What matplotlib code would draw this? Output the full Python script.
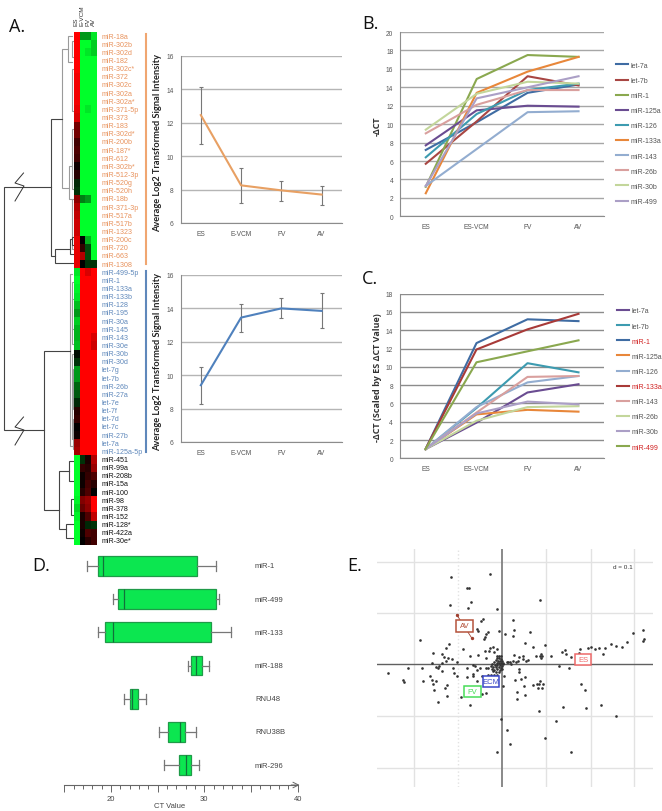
import numpy as np
import matplotlib
matplotlib.use('Agg')
import matplotlib.pyplot as plt
from matplotlib.colors import LinearSegmentedColormap
from matplotlib.patches import Rectangle

plt.rcParams['font.family'] = ['Liberation Sans', 'DejaVu Sans']

W, H = 662, 812

# panel A heatmap
orange_rows = ['miR-18a', 'miR-302b', 'miR-302d', 'miR-182', 'miR-302c*', 'miR-372', 'miR-302c', 'miR-302a',
               'miR-302a*', 'miR-371-5p', 'miR-373', 'miR-183', 'miR-302d*', 'miR-200b', 'miR-187*', 'miR-612',
               'miR-302b*', 'miR-512-3p', 'miR-520g', 'miR-520h', 'miR-18b', 'miR-371-3p', 'miR-517a', 'miR-517b',
               'miR-1323', 'miR-200c', 'miR-720', 'miR-663', 'miR-1308']
blue_rows = ['miR-499-5p', 'miR-1', 'miR-133a', 'miR-133b', 'miR-128', 'miR-195', 'miR-30a', 'miR-145', 'miR-143',
             'miR-30e', 'miR-30b', 'miR-30d', 'let-7g', 'let-7b', 'miR-26b', 'miR-27a', 'let-7e', 'let-7f', 'let-7d',
             'let-7c', 'miR-27b', 'let-7a', 'miR-125a-5p']
black_rows = ['miR-451', 'miR-99a', 'miR-208b', 'miR-15a', 'miR-100', 'miR-98', 'miR-378', 'miR-152', 'miR-128*',
              'miR-422a', 'miR-30e*']

heat_es = [1, 1, 1, 1, 1, .95, .95, .95, .95, .9, .85, .45, .45, .25, .3, .25, .05, .15, -.15, -.2, .55, .7, .75, .8,
           .8, .9, .9, .9, .9,
           -.9, -1, -.95, -.9, -.75, -.6, -.8, -.7, -.7, -.75, -.05, -.2, -.6, -.6, -.4, -.35, -.15, .15, .2, 0, .05,
           .6, .65,
           -1, -1, -1, -1, -1, -.95, -.85, -.95, -1, -1, -1]
heat_vcm = [-.6, -1, -1, -1, -1, -1, -1, -1, -1, -1, -1, -1, -1, -1, -1, -1, -1, -1, -1, -1, -.5, -1, -1, -1,
            -1, 0, .2, .7, 0,
            1, 1, 1, 1, 1, 1, 1, 1, 1, 1, 1, 1, 1, 1, 1, 1, 1, 1, 1, 1, 1, 1, 1,
            -.2, .2, .05, .05, .15, .5, .4, .1, .1, .05, 0]
heat_fv = [-.6, -1, -.9, -1, -1, -1, -1, -1, -1, -.9, -1, -1, -1, -1, -1, -1, -1, -1, -1, -1, -.6, -1, -1, -1,
           -1, -.7, -.3, -.3, -.2,
           .85, 1, 1, 1, 1, 1, 1, 1, 1, 1, 1, 1, 1, 1, 1, 1, 1, 1, 1, 1, 1, 1, 1,
           .1, .15, .2, .25, .3, .6, .55, .3, -.15, .3, .15]
heat_av = [-.9, -.8, -.8, -1, -1, -1, -1, -1, -1, -1, -1, -1, -1, -1, -1, -1, -1, -1, -1, -1, -1, -1, -1, -1,
           -1, -1, -1, -1, -.2,
           1, 1, 1, 1, 1, 1, 1, 1, .85, .8, 1, 1, 1, 1, 1, 1, 1, 1, 1, 1, 1, 1, 1,
           .7, .6, .3, .15, 0, 1, 1, .75, -.2, .25, .25]
heat_cols = ['ES', 'E-VCM', 'FV', 'AV']

# dendrogram brackets: x of node, y top, y bottom, x end of top arm, x end of bottom arm (picture px)
dendro_dark = [(3.5, 188, 431, 51, 44), (51, 120, 257, 62, 55), (44, 352, 511, 70, 59), (55, 250, 264, 70, 74),
               (70, 240, 255, 72, 74), (72, 238, 246, 74, 74), (59, 472, 530, 69, 66), (69, 462, 482, 74, 74),
               (71, 500, 516, 74, 74), (66, 525, 539, 74, 74)]
dendro_light = [(62, 50, 189, 68, 69), (68, 37, 63, 72, 72), (72, 42, 58, 74, 74), (69, 167, 200, 72, 72),
                (72, 70, 112, 74, 74), (72, 130, 190, 74, 74), (72, 200, 250, 74, 74), (70, 275, 447, 72, 73),
                (72, 283, 345, 74, 74), (72, 300, 330, 74, 74), (72, 355, 440, 74, 74), (73, 370, 410, 74, 74),
                (73, 420, 450, 74, 74)]
break_x = [23.5, 15, 24, 15]
break_y_top = [174, 184, 187, 202]
break_y_bot = [418, 428, 431, 446]

# panel A line charts
a_x = ['ES', 'E-VCM', 'FV', 'AV']
a_down = [12.45, 8.25, 7.95, 7.7]
a_down_lo = [10.75, 7.2, 7.3, 7.1]
a_down_hi = [14.15, 9.3, 8.5, 8.2]
a_up = [9.4, 13.45, 14.0, 13.85]
a_up_lo = [8.25, 12.6, 13.4, 12.85]
a_up_hi = [10.5, 14.25, 14.6, 14.9]

# panel B
b_x = ['ES', 'ES-VCM', 'FV', 'AV']
b_names = ['let-7a', 'let-7b', 'miR-1', 'miR-125a', 'miR-126', 'miR-133a', 'miR-143', 'miR-26b', 'miR-30b', 'miR-499']
b_let7a = [7.2, 10.2, 13.4, 14.3]
b_let7b = [5.7, 10.3, 15.2, 14.2]
b_mir1 = [3.2, 14.9, 17.5, 17.3]
b_mir125a = [7.7, 11.5, 12.0, 11.9]
b_mir126 = [6.4, 11.1, 13.7, 14.4]
b_mir133a = [2.5, 13.4, 15.7, 17.3]
b_mir143 = [3.3, 7.3, 11.3, 11.4]
b_mir26b = [9.0, 12.1, 13.7, 13.7]
b_mir30b = [9.4, 13.3, 14.6, 14.4]
b_mir499 = [3.3, 12.8, 14.0, 15.2]
b_colors = ['#3f6ca3', '#a84643', '#8aa84f', '#6a4c91', '#3d9bb0', '#e8873a', '#93add0', '#d9a09e', '#c3d69b', '#ab9fc6']

# panel C
c_let7a = [1, 3.9, 7.2, 8.1]
c_let7b = [1, 5.5, 10.4, 9.4]
c_mir1 = [1, 12.6, 15.2, 15.0]
c_mir125a = [1, 4.8, 5.3, 5.1]
c_mir126 = [1, 5.6, 8.3, 9.0]
c_mir133a = [1, 11.9, 14.1, 15.8]
c_mir143 = [1, 5.0, 8.9, 9.0]
c_mir26b = [1, 4.1, 5.6, 5.7]
c_mir30b = [1, 4.9, 6.2, 5.9]
c_mir499 = [1, 10.5, 11.7, 12.9]
c_colors = ['#6a4c91', '#3d9bb0', '#3f6ca3', '#e8873a', '#93add0', '#a83a38', '#d9a09e', '#c3d69b', '#ab9fc6', '#8aa84f']
c_red = ['miR-1', 'miR-133a', 'miR-499']

# panel D
d_names = ['miR-1', 'miR-499', 'miR-133', 'miR-188', 'RNU48', 'RNU38B', 'miR-296']
d_whislo = [17.4, 20.2, 18.6, 28.3, 21.4, 25.1, 25.7]
d_q1 = [18.6, 20.8, 19.4, 28.6, 22.0, 26.1, 27.3]
d_med = [19.1, 21.4, 20.25, 29.1, 22.3, 27.4, 28.0]
d_q3 = [29.2, 31.2, 30.7, 29.7, 22.9, 27.9, 28.6]
d_whishi = [31.3, 31.6, 32.9, 30.5, 23.7, 29.1, 29.4]

# panel E, points
e_x = [334, 450, 382, 388, 392, 330, 383, 470, 601, 428, 424, 518, 412, 415, 443, 437, 435, 432, 477, 495, 523, 519,
       570, 241, 328, 319, 369, 554, 579, 615, 449, 460, 470, 434, 447, 463, 278, 305, 312, 324, 335, 318, 389, 413,
       437, 352, 275, 305, 666, 676, 677, 693, 634, 602, 588, 600, 606, 602, 720, 716, 745, 752, 764, 777, 796, 790,
       813, 828, 846, 862, 879, 908, 911, 909, 521, 536, 548, 550, 557, 565, 534, 520, 510, 500, 528, 490, 505, 512,
       470, 476, 482, 472, 478, 484, 468, 474, 480, 486, 462, 470, 476, 482, 488, 455, 465, 472, 480, 486, 452, 460,
       468, 476, 483, 445, 455, 463, 472, 480, 487, 458, 468, 478, 400, 404, 380, 410, 419, 438, 204, 247, 289, 297,
       295, 338, 306, 342, 350, 145, 190, 192, 250, 270, 276, 288, 278, 382, 399, 399, 427, 445, 453, 461, 470, 412,
       538, 538, 492, 525, 543, 555, 488, 552, 579, 591, 601, 610, 594, 605, 598, 724, 735, 322, 316, 283, 320, 426,
       439, 530, 556, 532, 364, 295, 389, 668, 738, 782, 598, 828, 657, 686, 484, 649, 501, 615, 511, 470, 692]
e_y = [85, 76, 118, 118, 159, 167, 178, 181, 154, 210, 217, 212, 240, 247, 250, 255, 265, 270, 247, 254, 242, 262,
       249, 272, 284, 296, 300, 283, 293, 289, 296, 295, 300, 305, 305, 310, 312, 316, 323, 327, 330, 336, 320, 317,
       328, 338, 341, 341, 310, 304, 316, 323, 320, 316, 320, 322, 322, 328, 300, 312, 298, 295, 300, 296, 298, 314,
       285, 292, 293, 280, 253, 242, 270, 277, 317, 325, 321, 330, 335, 333, 335, 335, 338, 340, 340, 345, 340, 345,
       320, 320, 322, 326, 328, 330, 332, 335, 336, 335, 340, 342, 342, 343, 342, 345, 347, 348, 348, 350, 352, 354,
       355, 354, 356, 358, 360, 362, 360, 363, 360, 367, 368, 368, 347, 352, 358, 362, 358, 356, 357, 357, 354, 352,
       358, 358, 365, 372, 380, 373, 393, 400, 396, 382, 393, 396, 405, 385, 375, 382, 380, 378, 378, 378, 378, 396,
       360, 368, 382, 394, 390, 385, 411, 412, 408, 406, 395, 405, 418, 417, 405, 405, 424, 408, 418, 424, 442, 434,
       432, 430, 438, 451, 445, 458, 467, 473, 477, 469, 486, 501, 350, 357, 511, 515, 543, 568, 586, 610, 608]
e_grid_x = [223, 355, 617, 752, 883]
e_grid_y = [38, 192, 500, 656]
e_origin = (487, 346)
e_av_x = [350, 395]
e_av_y = [197, 267]
e_labels = ['AV', 'ES', 'ECM', 'FV']
e_label_x = [374, 729, 453, 398]
e_label_y = [231, 331, 398, 427]
e_label_col = ['#b5533c', '#ee6a6a', '#3a48c8', '#48dd58']


def px_axes(left, top, right, bottom, **kw):
    ax = fig.add_axes([left / W, 1 - bottom / H, (right - left) / W, (bottom - top) / H], **kw)
    ax.patch.set_alpha(0)
    return ax


def style_lines(ax, cats, ymin, ymax, step, grid_col='#a6a6a6'):
    ax.set_xlim(-0.5, 3.5)
    ax.set_ylim(ymin, ymax)
    ax.set_xticks(range(4), cats)
    ax.set_yticks(np.arange(ymin, ymax + 1, step))
    ax.grid(axis='y', color=grid_col, lw=1.0)
    ax.set_axisbelow(True)
    for s in ['top', 'right']:
        ax.spines[s].set_visible(False)
    for s in ['left', 'bottom']:
        ax.spines[s].set_color('#8c8c8c')
    ax.tick_params(length=0, labelsize=4.8, labelcolor='#555555', pad=5)


fig = plt.figure(figsize=(W / 100, H / 100), dpi=100)
ov = fig.add_axes([0, 0, 1, 1])
ov.set_xlim(0, W)
ov.set_ylim(H, 0)
ov.axis('off')

for txt, x, y in [('A.', 9, 27), ('B.', 362, 24), ('C.', 362, 279), ('D.', 32, 566), ('E.', 347, 566)]:
    ov.text(x, y, txt, fontsize=13, family='Open Sans', color='#111111', va='center', ha='left')

# heatmap
green_black_red = LinearSegmentedColormap.from_list('gbr', ['#00ff2a', '#000000', '#ff0000'])
heat = np.array([heat_es, heat_vcm, heat_fv, heat_av]).T
ax_heat = px_axes(74, 33, 96, 546)
ax_heat.imshow(heat, cmap=green_black_red, vmin=-1, vmax=1, aspect='auto', interpolation='nearest')
ax_heat.axis('off')

row_h = (546 - 33) / len(heat)
rows = [(n, '#e8925c') for n in orange_rows] + [(n, '#5f88bb') for n in blue_rows] + [(n, '#111111') for n in black_rows]
for i, (name, col) in enumerate(rows):
    ov.text(101.5, 33 + row_h * (i + 0.5), name, color=col, fontsize=5.1, va='center', ha='left')
for i, name in enumerate(heat_cols):
    ov.text(76.5 + i * 5.5, 26, name, rotation=90, fontsize=4.6, color='#333333', va='bottom', ha='center')

for items, col, lw in [(dendro_light, '#9a9a9a', 0.8), (dendro_dark, '#444444', 0.8)]:
    for x0, y0, y1, xa, xb in items:
        ov.plot([xa, x0, x0, xb], [y0, y0, y1, y1], color=col, lw=lw, solid_joinstyle='miter')
ov.plot(break_x, break_y_top, color='#333333', lw=0.7)
ov.plot(break_x, break_y_bot, color='#333333', lw=0.7)

ov.plot([146, 146], [35, 265], color='#f0a671', lw=1.5)
ov.plot([146, 146], [272, 453], color='#5f88bb', lw=1.5)

# line charts of panel A
ax_a1 = px_axes(180.7, 56.7, 341.7, 224)
style_lines(ax_a1, a_x, 6, 16, 2, '#b5b5b5')
ax_a1.errorbar(range(4), a_down, yerr=[np.array(a_down) - a_down_lo, np.array(a_down_hi) - a_down],
               color='#e8a063', lw=1.5, ecolor='#777777', elinewidth=0.8, capsize=1.5, capthick=0.8)
ax_a2 = px_axes(180.7, 276, 341.7, 443)
style_lines(ax_a2, a_x, 6, 16, 2, '#b5b5b5')
ax_a2.errorbar(range(4), a_up, yerr=[np.array(a_up) - a_up_lo, np.array(a_up_hi) - a_up],
               color='#4f81bd', lw=1.5, ecolor='#777777', elinewidth=0.8, capsize=1.5, capthick=0.8)
for yc in [143.5, 362]:
    ov.text(158, yc, 'Average Log2 Transformed Signal Intensity', rotation=90, fontsize=6.7, fontweight='bold',
            family='Lato', color='#222222', va='center', ha='center')

# panel B
ax_b = px_axes(400.3, 33, 604, 217.3)
style_lines(ax_b, b_x, 0, 20, 2)
b_series = [b_let7a, b_let7b, b_mir1, b_mir125a, b_mir126, b_mir133a, b_mir143, b_mir26b, b_mir30b, b_mir499]
for name, vals, col in zip(b_names, b_series, b_colors):
    ax_b.plot(range(4), vals, color=col, lw=1.5, label=name)
leg_opts = dict(frameon=False, fontsize=5, labelspacing=1.17, handlelength=1.75, handletextpad=0.45, borderpad=0,
                borderaxespad=0, loc='center left', bbox_transform=fig.transFigure, labelcolor='#555555')
ax_b.legend(bbox_to_anchor=(615.7 / W, 1 - 134.4 / H), **leg_opts)
ov.text(377, 126, '-ΔCT', rotation=90, fontsize=6.5, fontweight='bold', family='Open Sans', color='#333333',
        va='center', ha='center')

# panel C
ax_c = px_axes(400, 294.7, 604, 459.3)
style_lines(ax_c, b_x, 0, 18, 2, '#8c8c8c')
c_series = [c_let7a, c_let7b, c_mir1, c_mir125a, c_mir126, c_mir133a, c_mir143, c_mir26b, c_mir30b, c_mir499]
for name, vals, col in zip(b_names, c_series, c_colors):
    ax_c.plot(range(4), vals, color=col, lw=1.5, label=name)
leg_c = ax_c.legend(bbox_to_anchor=(616.7 / W, 1 - 380 / H), **leg_opts)
for t in leg_c.get_texts():
    if t.get_text() in c_red:
        t.set_color('#d02020')
ov.text(377, 378, '-ΔCT (Scaled by ES ΔCT Value)', rotation=90, fontsize=6.5, fontweight='bold', family='Open Sans',
        color='#333333', va='center', ha='center')

# panel D
ax_d = px_axes(64.3, 550, 297.7, 786)
stats = [dict(whislo=a, q1=b, med=c, q3=d, whishi=e, fliers=[])
         for a, b, c, d, e in zip(d_whislo, d_q1, d_med, d_q3, d_whishi)]
ax_d.bxp(stats, positions=range(len(stats)), widths=0.6, orientation='horizontal', patch_artist=True,
         showfliers=False, manage_ticks=False,
         boxprops=dict(facecolor='#0ce650', edgecolor='#1f9a48', lw=0.9),
         medianprops=dict(color='#12703a', lw=0.9),
         whiskerprops=dict(color='#777777', lw=0.9), capprops=dict(color='#777777', lw=0.9))
ax_d.set_xlim(15, 40)
ax_d.set_ylim(6.6, -0.512)
ax_d.set_yticks([])
ax_d.set_xticks([15, 20, 25, 30, 35, 40], ['', '20', '', '30', '', '40'])
ax_d.set_xticks(np.arange(15, 41, 1), minor=True)
ax_d.tick_params(axis='x', which='major', length=5, width=0.7, color='#666666', labelsize=5.5, labelcolor='#444444', pad=2)
ax_d.tick_params(axis='x', which='minor', length=3, width=0.7, color='#666666')
for s in ['top', 'right', 'left']:
    ax_d.spines[s].set_visible(False)
ax_d.spines['bottom'].set_color('#666666')
ax_d.annotate('', xy=(40.2, 6.6), xytext=(39.3, 6.6), annotation_clip=False,
              arrowprops=dict(arrowstyle='->', color='#666666', lw=0.7, shrinkA=0, shrinkB=0))
for i, name in enumerate(d_names):
    ov.text(255, 567 + 33.2 * i, name, fontsize=5.5, color='#444444', va='center', ha='left')
ov.text(170, 806.5, 'CT Value', fontsize=5.5, color='#444444', va='center', ha='center')

# panel E
ax_e = px_axes(376.7, 550, 652.7, 788.3)
ax_e.set_xlim(110, 938)
ax_e.set_ylim(715, 0)
ax_e.axis('off')
for g in e_grid_x:
    ax_e.axvline(g, color='#e2e2e2', lw=1.0, ls=':' if g == 355 else '-', zorder=1)
for g in e_grid_y:
    ax_e.axhline(g, color='#e2e2e2', lw=1.0, zorder=1)
ax_e.axvline(e_origin[0], color='#808080', lw=1.3, zorder=2)
ax_e.axhline(e_origin[1], color='#606060', lw=1.0, zorder=2)
ax_e.scatter(e_x, e_y, s=3.6, color='#333333', lw=0, zorder=3)
ax_e.plot(e_av_x, e_av_y, color='#a04030', lw=0.6, marker='o', ms=1.4, zorder=3)
for name, x, y, col in zip(e_labels, e_label_x, e_label_y, e_label_col):
    ax_e.add_patch(Rectangle((x - 25, y - 17), 50, 34, facecolor='white', edgecolor=col, lw=1.1, zorder=4))
    ax_e.text(x, y, name, color=col, fontsize=5.5, va='center', ha='center', zorder=5)
ax_e.text(850, 54, 'd = 0.1', fontsize=4.6, color='#333333', va='center', ha='center')

fig.savefig('out.png', dpi=100)
